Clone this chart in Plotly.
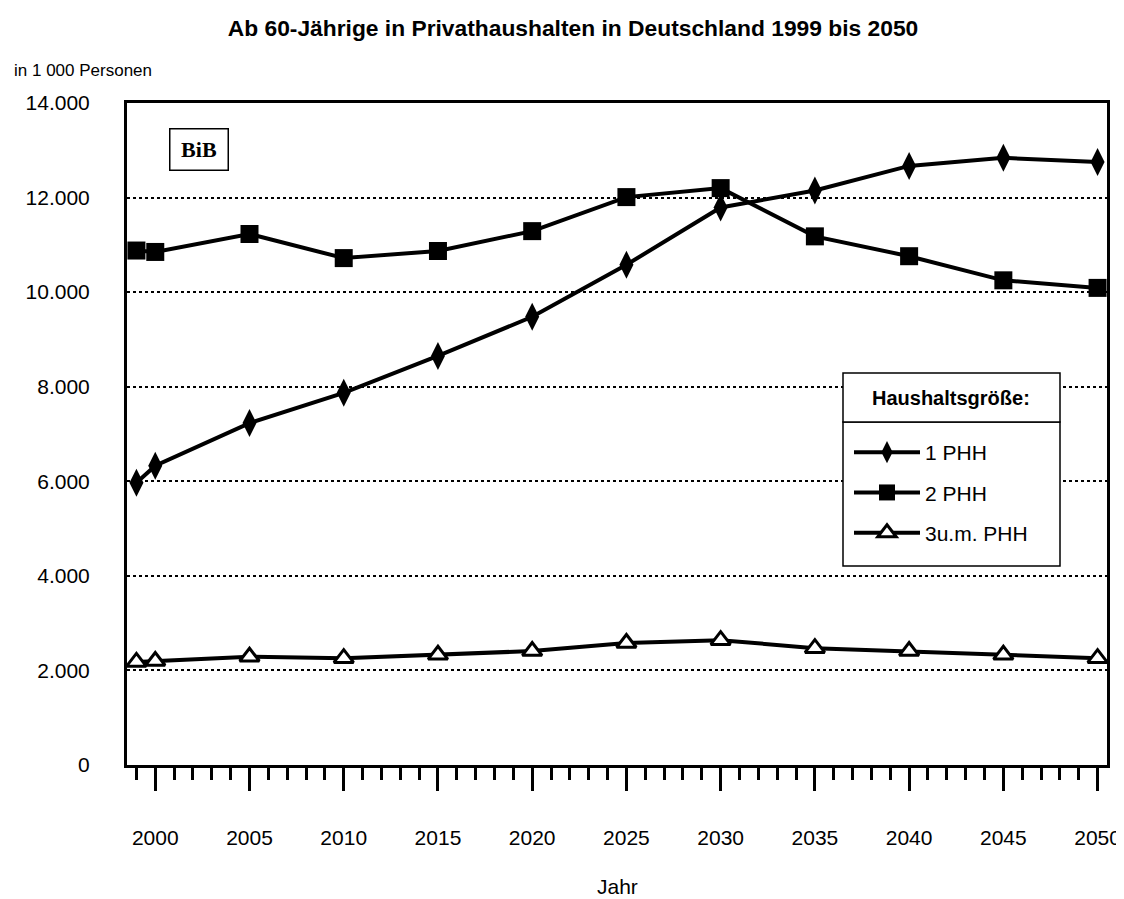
import plotly.graph_objects as go

# Werte in 1 000 Personen
jahre = [1999, 2000, 2005, 2010, 2015, 2020, 2025, 2030, 2035, 2040, 2045, 2050]
phh_1 = [5970, 6330, 7230, 7870, 8650, 9480, 10580, 11790, 12150, 12670, 12840, 12750]
phh_2 = [10880, 10850, 11230, 10720, 10870, 11290, 12010, 12200, 11180, 10760, 10250, 10090]
phh_3 = [2180, 2200, 2290, 2260, 2330, 2410, 2580, 2640, 2470, 2410, 2330, 2260]

namen = ['1 PHH', '2 PHH', '3u.m. PHH']
x_ticks = list(range(2000, 2051, 5))
y_ticks = list(range(0, 14001, 2000))

FONT = 'Liberation Sans'

# the page body has an 8px margin, so the figure is drawn 8px smaller
OFF = 8
FIG_W, FIG_H = 1124 - OFF, 899 - OFF

fig = go.Figure()

fig.add_trace(go.Scatter(x=jahre, y=phh_1, name=namen[0], legendgroup='a',
                         mode='lines+markers',
                         line=dict(color='black', width=4),
                         marker=dict(symbol='diamond-tall', size=20, color='black')))
fig.add_trace(go.Scatter(x=jahre, y=phh_2, name=namen[1], legendgroup='b',
                         mode='lines+markers',
                         line=dict(color='black', width=4),
                         marker=dict(symbol='square', size=18, color='black')))
fig.add_trace(go.Scatter(x=jahre, y=phh_3, name=namen[2], legendgroup='c',
                         mode='lines+markers',
                         line=dict(color='black', width=4),
                         marker=dict(symbol='triangle-up', size=17, color='white',
                                     line=dict(color='black', width=3))))

# plot area in window pixels: x 127..1107, y 103..765
L, R, T, B = 127, 1107, 103, 765
W, H = R - L, B - T

def px_x(p):
    return (p - L) / W

def px_y(p):
    return (B - p) / H

fig.update_layout(
    width=FIG_W, height=FIG_H,
    margin=dict(l=L - OFF, r=FIG_W - (R - OFF), t=T - OFF, b=FIG_H - (B - OFF),
                autoexpand=False),
    plot_bgcolor='white', paper_bgcolor='white',
    separators=',.',
    font=dict(family=FONT, color='black'),
    title=dict(text='<b>Ab 60-Jährige in Privathaushalten in Deutschland 1999 bis 2050</b>',
               x=(573 - OFF) / FIG_W, xref='container', xanchor='center',
               y=1 - (28 - OFF) / FIG_H, yref='container', yanchor='middle',
               font=dict(size=22.8, family=FONT)),
    showlegend=True,
    legend=dict(x=px_x(849), y=px_y(432), xanchor='left', yanchor='top',
                bgcolor='rgba(0,0,0,0)', borderwidth=0,
                font=dict(size=21, family=FONT),
                tracegroupgap=10, itemwidth=66),
)

fig.update_xaxes(range=[1998.5, 2050.5], tickvals=x_ticks, automargin=False,
                 showline=True, linecolor='black', linewidth=3, mirror=True,
                 showgrid=False, zeroline=False,
                 ticks='outside', ticklen=23, tickwidth=2.5, tickcolor='black',
                 minor=dict(dtick=1, ticks='outside', ticklen=12, tickwidth=2.5,
                            tickcolor='black', showgrid=False),
                 tickfont=dict(size=21, family=FONT), ticklabelstandoff=29)

fig.update_yaxes(range=[0, 14000], tickvals=y_ticks, tickformat=',d', automargin=False,
                 showline=True, linecolor='black', linewidth=3, mirror=True,
                 showgrid=True, gridcolor='black', gridwidth=2, griddash='dot',
                 zeroline=False, ticks='',
                 tickfont=dict(size=21, family=FONT), ticklabelstandoff=30)

# Achsentitel und Einheit
fig.add_annotation(text='Jahr', xref='paper', yref='paper',
                   x=px_x(617), y=px_y(887), xanchor='center', yanchor='middle',
                   showarrow=False, font=dict(size=21, family=FONT))
fig.add_annotation(text='in 1 000 Personen', xref='paper', yref='paper',
                   x=px_x(12), y=px_y(71), xanchor='left', yanchor='middle',
                   showarrow=False, font=dict(size=17, family=FONT))

# BiB-Logo
fig.add_annotation(text='<b>BiB</b>', xref='paper', yref='paper',
                   x=px_x(198.5), y=px_y(149), xanchor='center', yanchor='middle',
                   showarrow=False, font=dict(size=22, family='Liberation Serif'),
                   bordercolor='black', borderwidth=1.5, bgcolor='white',
                   width=55, height=38)

# Legendenrahmen und Titel
fig.add_shape(type='rect', xref='paper', yref='paper', layer='above',
              x0=px_x(843), x1=px_x(1060), y0=px_y(422), y1=px_y(566),
              fillcolor='white', line=dict(color='black', width=1.5))
fig.add_shape(type='rect', xref='paper', yref='paper', layer='above',
              x0=px_x(843), x1=px_x(1060), y0=px_y(373), y1=px_y(422),
              fillcolor='white', line=dict(color='black', width=1.5))
fig.add_annotation(text='<b>Haushaltsgröße:</b>', xref='paper', yref='paper',
                   x=px_x(951), y=px_y(398), xanchor='center', yanchor='middle',
                   showarrow=False, font=dict(size=20, family=FONT))

fig.write_html('out.html')
